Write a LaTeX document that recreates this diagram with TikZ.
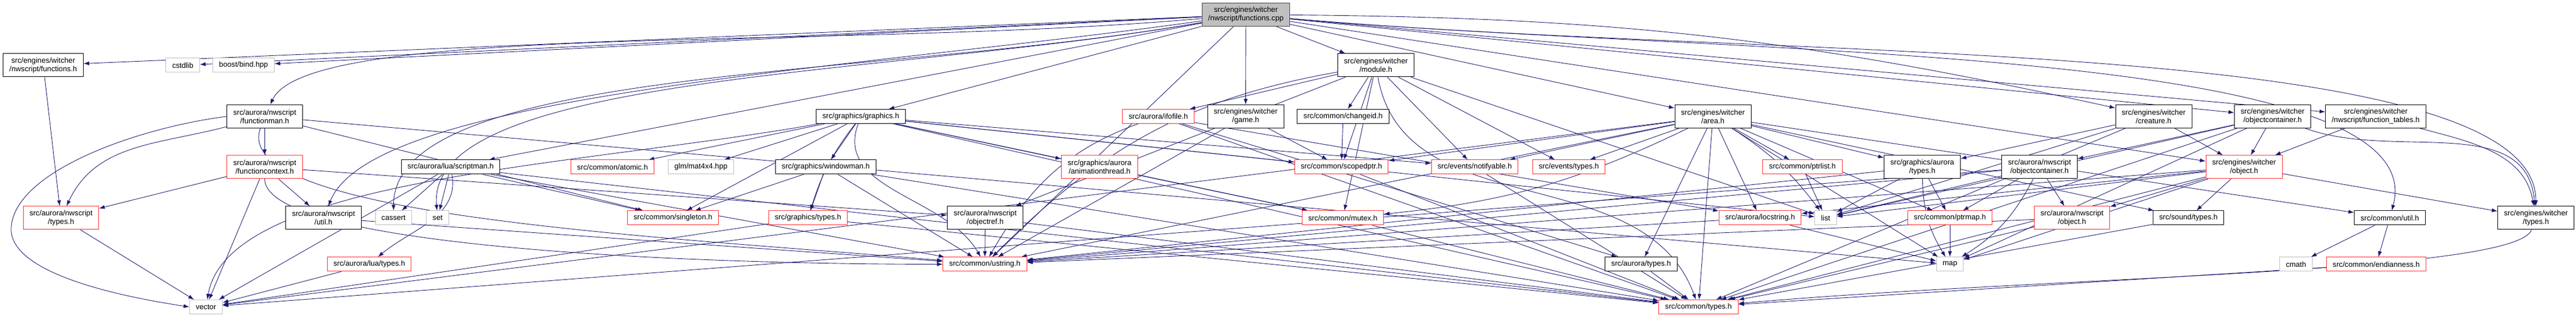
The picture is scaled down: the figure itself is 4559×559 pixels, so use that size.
\documentclass[tikz,border=0pt]{standalone}
\usepackage{fontspec}
\setmainfont{Liberation Sans}
\usetikzlibrary{arrows.meta,backgrounds}

\definecolor{doxblue}{HTML}{191970}
\definecolor{doxgray}{HTML}{BFBFBF}
\definecolor{doxred}{HTML}{FF3030}
\definecolor{doxdark}{HTML}{404040}
% the picture is drawn at 1/8 size: 1 unit = 0.125pt, y runs downwards
\tikzset{
  doxbox/.style={draw=black, line width=0.125pt, fill=white, rectangle, align=center,
    inner xsep=1.375pt, inner ysep=0pt, minimum height=3.125pt,
    font=\fontsize{1.65}{1.875}\selectfont},
  tall/.style={doxbox, minimum height=5.125pt},
  ext/.style={doxbox, draw=doxgray},
  cut/.style={doxbox, draw=doxred},
  cuttall/.style={tall, draw=doxred},
  include/.style={draw=doxblue, line width=0.11pt, -{Latex[length=1.25pt,width=0.875pt]}},
}

\begin{document}
\begin{tikzpicture}[x=0.125pt,y=-0.125pt]

\useasboundingbox (0,0) rectangle (4559,559);

% row 1
\node[tall,fill=doxgray,draw=doxdark] (main) at (2205,26) {src/engines/witcher\\/nwscript/functions.cpp};
% row 2
\node[tall] (fnh) at (76.5,115.5) {src/engines/witcher\\/nwscript/functions.h};
\node[ext] (cstdlib) at (323.5,115.5) {cstdlib};
\node[ext] (bind) at (431,115.5) {boost/bind.hpp};
\node[tall] (module) at (2435,115.5) {src/engines/witcher\\/module.h};
% row 3
\node[tall] (fman) at (468.5,206) {src/aurora/nwscript\\/functionman.h};
\node[doxbox] (graphics) at (1523.5,206) {src/graphics/graphics.h};
\node[cut] (ifofile) at (2050,206) {src/aurora/ifofile.h};
\node[tall] (game) at (2204.5,206) {src/engines/witcher\\/game.h};
\node[doxbox] (changeid) at (2377,206) {src/common/changeid.h};
\node[tall] (area) at (3031.5,206) {src/engines/witcher\\/area.h};
\node[tall] (creature) at (3811.5,206) {src/engines/witcher\\/creature.h};
\node[tall] (wobjcont) at (4022,206) {src/engines/witcher\\/objectcontainer.h};
\node[tall] (ftables) at (4204.5,206) {src/engines/witcher\\/nwscript/function\_tables.h};
% row 4
\node[cuttall] (fctx) at (468.5,295.5) {src/aurora/nwscript\\/functioncontext.h};
\node[doxbox] (scriptman) at (797.5,295.5) {src/aurora/lua/scriptman.h};
\node[cut] (atomic) at (1084,295.5) {src/common/atomic.h};
\node[ext] (mat4) at (1240.5,295.5) {glm/mat4x4.hpp};
\node[doxbox] (windowman) at (1461.5,295.5) {src/graphics/windowman.h};
\node[cuttall] (animthread) at (1946,295.5) {src/graphics/aurora\\/animationthread.h};
\node[cut] (scopedptr) at (2374,295.5) {src/common/scopedptr.h};
\node[cut] (notifyable) at (2610,295.5) {src/events/notifyable.h};
\node[cut] (evtypes) at (2776.5,295.5) {src/events/types.h};
\node[cut] (ptrlist) at (3190,295.5) {src/common/ptrlist.h};
\node[tall] (gatypes) at (3402,295.5) {src/graphics/aurora\\/types.h};
\node[tall] (nobjcont) at (3609.5,295.5) {src/aurora/nwscript\\/objectcontainer.h};
\node[cuttall] (wobject) at (3971.5,295.5) {src/engines/witcher\\/object.h};
% row 5
\node[cuttall] (nwtypes) at (108,385.5) {src/aurora/nwscript\\/types.h};
\node[tall] (nwutil) at (572.5,385.5) {src/aurora/nwscript\\/util.h};
\node[ext] (cassert) at (696.5,385.5) {cassert};
\node[ext] (set) at (774.5,385.5) {set};
\node[cut] (singleton) at (1191,385.5) {src/common/singleton.h};
\node[cut] (gtypes) at (1430,385.5) {src/graphics/types.h};
\node[tall] (objectref) at (1743.5,385.5) {src/aurora/nwscript\\/objectref.h};
\node[cut] (mutex) at (2376.5,385.5) {src/common/mutex.h};
\node[cut] (locstring) at (3115,385.5) {src/aurora/locstring.h};
\node[ext] (list) at (3231,385.5) {list};
\node[cut] (ptrmap) at (3451,385.5) {src/common/ptrmap.h};
\node[cuttall] (nobject) at (3667,385.5) {src/aurora/nwscript\\/object.h};
\node[doxbox] (soundtypes) at (3873,385.5) {src/sound/types.h};
\node[doxbox] (cutil) at (4229.5,385.5) {src/common/util.h};
\node[tall] (wtypes) at (4488,385.5) {src/engines/witcher\\/types.h};
% row 6
\node[cut] (luatypes) at (653.5,467.5) {src/aurora/lua/types.h};
\node[cut] (ustring) at (1743,467.5) {src/common/ustring.h};
\node[doxbox] (auroratypes) at (2904.5,467.5) {src/aurora/types.h};
\node[ext] (map) at (3451,467.5) {map};
\node[ext] (cmath) at (4063.5,467.5) {cmath};
\node[cut] (endianness) at (4205.5,467.5) {src/common/endianness.h};
% row 7
\node[ext] (vector) at (364.5,543) {vector};
\node[cut] (ctypes) at (3006,543) {src/common/types.h};

\begin{scope}[on background layer]
% includes of the source file
\draw[include] (main) -- (fnh);
\draw[include] (main) -- (cstdlib);
\draw[include] (main) -- (bind);
\draw[include] (main) to[out=185,in=65,in looseness=0.25] (fman);
\draw[include] (main) to[out=188,in=68,in looseness=0.35] (nwutil);
\draw[include] (main) to[out=190,in=90,in looseness=0.45] (cassert);
\draw[include] (main) to[out=190,in=95,in looseness=0.45] (set);
\draw[include] (main) -- (scriptman);
\draw[include] (main) -- (graphics);
\draw[include] (main) -- (game);
\draw[include] (main) -- (module);
\draw[include] (main) -- (area);
\draw[include] (main) to[bend left=6] (creature);
\draw[include] (main) -- (wobjcont);
\draw[include] (main) -- (ftables);
\draw[include] (main) -- (wobject);
\draw[include] (main) to[out=-5,in=75,in looseness=0.4] (cutil);
\draw[include] (main) to[out=-5,in=90,in looseness=0.35] (wtypes);
\draw[include] (main) -- (ustring);

% nwscript
\draw[include] (fnh) -- (nwtypes);
\draw[include] (fman) -- (fctx);
\draw[include] (fman) to[out=195,in=65] (nwtypes);
\draw[include] (fman.west) .. controls (250,225) and (30,300) .. (20,400)
  .. controls (10,490) and (250,530) .. (vector.west);
\draw[include] (fman) to[out=-110,in=175,out looseness=0.35] (ustring);
\draw[include] (fman) -- (singleton);
\draw[include] (fman) -- (map);
\draw[include] (fctx) -- (nwtypes);
\draw[include] (fctx) -- (nwutil);
\draw[include] (fctx) -- (objectref);
\draw[include] (fctx) to[out=-90,in=180,out looseness=0.25] (ustring);
\draw[include] (fctx) -- (vector);
\draw[include] (nwtypes) -- (vector);
\draw[include] (nwutil) -- (ustring);
\draw[include] (objectref) -- (ustring);
\draw[include] (objectref) -- (ctypes);

% lua
\draw[include] (scriptman) -- (set);
\draw[include] (scriptman) -- (cassert);
\draw[include] (scriptman) to[out=-80,in=40] (luatypes);
\draw[include] (scriptman) -- (singleton);
\draw[include] (scriptman) -- (ustring);
\draw[include] (scriptman) -- (vector);
\draw[include] (scriptman) -- (ctypes);
\draw[include] (luatypes) -- (vector);

% graphics
\draw[include] (graphics) -- (atomic);
\draw[include] (graphics) -- (mat4);
\draw[include] (graphics) -- (windowman);
\draw[include] (graphics) -- (singleton);
\draw[include] (graphics) to[bend right=10] (gtypes);
\draw[include] (graphics) to[out=190,in=80,in looseness=0.5] (vector);
\draw[include] (graphics) -- (animthread);
\draw[include] (graphics) to[out=-110,in=120] (ustring);
\draw[include] (graphics) -- (notifyable);
\draw[include] (graphics) -- (mutex);
\draw[include] (graphics) -- (list);
\draw[include] (graphics) -- (ctypes);
\draw[include] (graphics) -- (scopedptr);
\draw[include] (windowman) -- (gtypes);
\draw[include] (windowman) -- (singleton);
\draw[include] (windowman) -- (ustring);
\draw[include] (windowman) -- (ctypes);
\draw[include] (gtypes) -- (vector);
\draw[include] (gtypes) -- (ctypes);
\draw[include] (animthread) -- (mutex);

% module, game
\draw[include] (ifofile) to[out=200,in=60] (ustring);
\draw[include] (ifofile) -- (locstring);
\draw[include] (ifofile) -- (auroratypes);
\draw[include] (ifofile) -- (ctypes);
\draw[include] (game) -- (ustring);
\draw[include] (game) -- (scopedptr);
\draw[include] (module) -- (ifofile);
\draw[include] (module) -- (changeid);
\draw[include] (module) -- (evtypes);
\draw[include] (module) to[out=190,in=45] (ustring);
\draw[include] (module) -- (scopedptr);
\draw[include] (module) to[out=-80,in=110] (ctypes);
\draw[include] (module) -- (notifyable);
\draw[include] (module) -- (objectref);
\draw[include] (module) -- (list);
\draw[include] (module) -- (mutex);
\draw[include] (changeid) -- (scopedptr);
\draw[include] (scopedptr) -- (ctypes);
\draw[include] (notifyable) -- (ctypes);
\draw[include] (mutex) -- (ctypes);

% area
\draw[include] (area) -- (scopedptr);
\draw[include] (area) -- (notifyable);
\draw[include] (area) -- (evtypes);
\draw[include] (area) to[bend left=10] (mutex);
\draw[include] (area) -- (ctypes);
\draw[include] (area) -- (auroratypes);
\draw[include] (area) -- (locstring);
\draw[include] (area) -- (ptrlist);
\draw[include] (area) to[bend left=10] (list);
\draw[include] (area) -- (gatypes);
\draw[include] (area) -- (ustring);
\draw[include] (area) -- (map);
\draw[include] (area) -- (ptrmap);
\draw[include] (area) -- (cutil);
\draw[include] (area) -- (soundtypes);
\draw[include] (area) -- (vector);
\draw[include] (auroratypes) -- (ctypes);
\draw[include] (locstring) -- (map);
\draw[include] (locstring) -- (ustring);
\draw[include] (ptrlist) -- (list);
\draw[include] (gatypes) -- (list);
\draw[include] (gatypes) to[bend right=15] (map);
\draw[include] (gatypes) -- (ptrmap);
\draw[include] (gatypes) -- (ustring);
\draw[include] (ptrmap) -- (map);

% objects
\draw[include] (nobjcont) -- (list);
\draw[include] (nobjcont) to[bend left=15] (map);
\draw[include] (nobjcont) -- (nobject);
\draw[include] (nobjcont) -- (ptrmap);
\draw[include] (nobjcont) -- (ustring);
\draw[include] (nobjcont) -- (vector);
\draw[include] (nobject) -- (ustring);
\draw[include] (nobject) -- (ctypes);
\draw[include] (creature) -- (wobject);
\draw[include] (creature) -- (gatypes);
\draw[include] (creature) -- (list);
\draw[include] (creature) -- (ctypes);
\draw[include] (wobjcont) -- (nobjcont);
\draw[include] (wobjcont) -- (wobject);
\draw[include] (wobjcont) to[out=-20,in=95] (wtypes);
\draw[include] (wobjcont) -- (list);
\draw[include] (wobjcont) -- (ctypes);
\draw[include] (wobjcont) -- (map);
\draw[include] (ftables) -- (wobject);
\draw[include] (ftables) to[out=-15,in=100] (wtypes);
\draw[include] (wobject) -- (soundtypes);
\draw[include] (wobject) -- (list);
\draw[include] (wobject) -- (ustring);
\draw[include] (wobject) -- (ctypes);
\draw[include] (wobject) -- (nobject);
\draw[include] (wobject) -- (wtypes);
\draw[include] (wobject) -- (locstring);
\draw[include] (wobject) -- (map);
\draw[include] (soundtypes) -- (ctypes);
\draw[include] (cutil) -- (cmath);
\draw[include] (cutil) -- (endianness);
\draw[include] (endianness) -- (ctypes);
\draw[include] (wtypes) to[out=-110,in=5,out looseness=0.15] (ctypes);
\end{scope}

\end{tikzpicture}
\end{document}
